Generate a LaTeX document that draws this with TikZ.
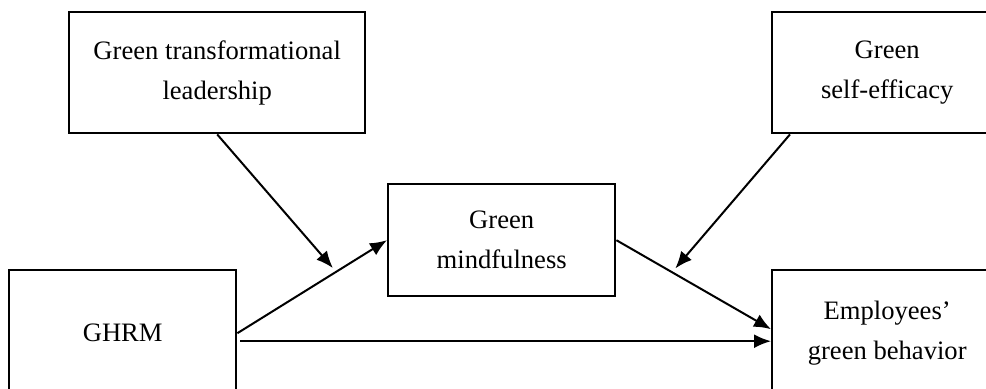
\documentclass[tikz,border=0pt]{standalone}
\usepackage{fontspec}
\setmainfont{Liberation Serif}
\usetikzlibrary{arrows.meta}
\usetikzlibrary{positioning}
\tikzset{box/.style = {draw, line width=1.2pt, rectangle, align=center, inner sep=0pt,
                       anchor=north west, font=\fontsize{13.3}{20}\selectfont},
         link/.style = {line width=1pt, -{Latex[length=8.5pt, width=7pt]}}}

\begin{document}
\begin{tikzpicture}[x=0.5pt, y=-0.5pt]
    \useasboundingbox (0, 0) rectangle (986, 389);
    \clip (0, 0) rectangle (986, 389);

    \node [box, minimum width=148pt, minimum height=60.5pt] (gtl) at (68, 11) {Green transformational\\leadership};
    \node [box, minimum width=115pt, minimum height=60.5pt] (gse) at (771, 11) {Green\\self-efficacy};
    \node [box, minimum width=113.5pt, minimum height=56pt] (gm) at (387, 183) {Green\\mindfulness};
    \node [box, minimum width=113.5pt, minimum height=63pt] (ghrm) at (8, 269) {GHRM};
    \node [box, minimum width=115pt, minimum height=63pt] (egb) at (771, 269) {Employees'\\green behavior};

    \draw [link] (ghrm.east) -- (gm.west) coordinate [pos=0.66] (m1);
    \draw [link] (gm.east) -- ([yshift=2pt]egb.west) coordinate [pos=0.36] (m2);

    \coordinate (h1) at ([xshift=1.5pt, yshift=-4pt]ghrm.east);
    \draw [link] (h1) -- (h1 -| egb.west);

    \draw [link, shorten >=2.5pt] (gtl.south) -- (m1);
    \draw [link, shorten >=2.5pt] ([xshift=9.5pt]gse.south west) -- (m2);
\end{tikzpicture}
\end{document}
